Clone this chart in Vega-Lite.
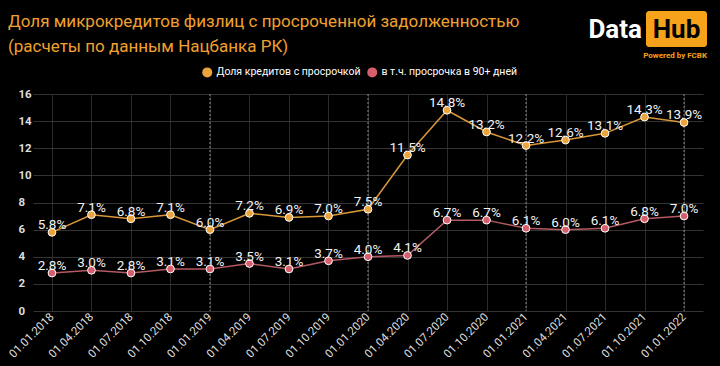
{
  "$schema": "https://vega.github.io/schema/vega-lite/v6.json",
  "width": 670,
  "height": 217,
  "autosize": "none",
  "padding": {"left": 33, "top": 94, "right": 17, "bottom": 55},
  "background": "#000000",
  "title": {
    "text": ["Доля микрокредитов физлиц с просроченной задолженностью", "(расчеты по данным Нацбанка РК)"],
    "anchor": "start",
    "frame": "group",
    "dx": -25,
    "color": "#F0A030",
    "font": "Roboto",
    "fontSize": 17,
    "fontWeight": "normal",
    "lineHeight": 25,
    "baseline": "top",
    "offset": 0,
    "dy": 45
  },
  "config": {
    "view": {"stroke": null},
    "font": "Roboto",
    "axis": {"domain": false, "ticks": false}
  },
  "datasets": {
    "main": [
      {"date": "01.01.2018", "series": "Доля кредитов с просрочкой", "value": 5.8},
      {"date": "01.04.2018", "series": "Доля кредитов с просрочкой", "value": 7.1},
      {"date": "01.07.2018", "series": "Доля кредитов с просрочкой", "value": 6.8},
      {"date": "01.10.2018", "series": "Доля кредитов с просрочкой", "value": 7.1},
      {"date": "01.01.2019", "series": "Доля кредитов с просрочкой", "value": 6.0},
      {"date": "01.04.2019", "series": "Доля кредитов с просрочкой", "value": 7.2},
      {"date": "01.07.2019", "series": "Доля кредитов с просрочкой", "value": 6.9},
      {"date": "01.10.2019", "series": "Доля кредитов с просрочкой", "value": 7.0},
      {"date": "01.01.2020", "series": "Доля кредитов с просрочкой", "value": 7.5},
      {"date": "01.04.2020", "series": "Доля кредитов с просрочкой", "value": 11.5},
      {"date": "01.07.2020", "series": "Доля кредитов с просрочкой", "value": 14.8},
      {"date": "01.10.2020", "series": "Доля кредитов с просрочкой", "value": 13.2},
      {"date": "01.01.2021", "series": "Доля кредитов с просрочкой", "value": 12.2},
      {"date": "01.04.2021", "series": "Доля кредитов с просрочкой", "value": 12.6},
      {"date": "01.07.2021", "series": "Доля кредитов с просрочкой", "value": 13.1},
      {"date": "01.10.2021", "series": "Доля кредитов с просрочкой", "value": 14.3},
      {"date": "01.01.2022", "series": "Доля кредитов с просрочкой", "value": 13.9},
      {"date": "01.01.2018", "series": "в т.ч. просрочка в 90+ дней", "value": 2.8},
      {"date": "01.04.2018", "series": "в т.ч. просрочка в 90+ дней", "value": 3.0},
      {"date": "01.07.2018", "series": "в т.ч. просрочка в 90+ дней", "value": 2.8},
      {"date": "01.10.2018", "series": "в т.ч. просрочка в 90+ дней", "value": 3.1},
      {"date": "01.01.2019", "series": "в т.ч. просрочка в 90+ дней", "value": 3.1},
      {"date": "01.04.2019", "series": "в т.ч. просрочка в 90+ дней", "value": 3.5},
      {"date": "01.07.2019", "series": "в т.ч. просрочка в 90+ дней", "value": 3.1},
      {"date": "01.10.2019", "series": "в т.ч. просрочка в 90+ дней", "value": 3.7},
      {"date": "01.01.2020", "series": "в т.ч. просрочка в 90+ дней", "value": 4.0},
      {"date": "01.04.2020", "series": "в т.ч. просрочка в 90+ дней", "value": 4.1},
      {"date": "01.07.2020", "series": "в т.ч. просрочка в 90+ дней", "value": 6.7},
      {"date": "01.10.2020", "series": "в т.ч. просрочка в 90+ дней", "value": 6.7},
      {"date": "01.01.2021", "series": "в т.ч. просрочка в 90+ дней", "value": 6.1},
      {"date": "01.04.2021", "series": "в т.ч. просрочка в 90+ дней", "value": 6.0},
      {"date": "01.07.2021", "series": "в т.ч. просрочка в 90+ дней", "value": 6.1},
      {"date": "01.10.2021", "series": "в т.ч. просрочка в 90+ дней", "value": 6.8},
      {"date": "01.01.2022", "series": "в т.ч. просрочка в 90+ дней", "value": 7.0}
    ],
    "yearmarks": [
      {"date": "01.01.2019"},
      {"date": "01.01.2020"},
      {"date": "01.01.2021"},
      {"date": "01.01.2022"}
    ],
    "logo": [
      {"part": "Data", "label": "Data"},
      {"part": "Hub", "label": "Hub"},
      {"part": "Powered", "label": "Powered by FCBK"}
    ]
  },
  "layer": [
    {
      "data": {"name": "yearmarks"},
      "mark": {"type": "rule", "color": "#8a8a8a", "strokeDash": [2, 2], "strokeWidth": 1},
      "encoding": {
        "x": {
          "field": "date",
          "type": "ordinal",
          "scale": {"type": "point", "padding": 0.48, "domain": ["01.01.2018", "01.04.2018", "01.07.2018", "01.10.2018", "01.01.2019", "01.04.2019", "01.07.2019", "01.10.2019", "01.01.2020", "01.04.2020", "01.07.2020", "01.10.2020", "01.01.2021", "01.04.2021", "01.07.2021", "01.10.2021", "01.01.2022"]},
          "axis": {
            "title": null,
            "labelAngle": -45,
            "labelAlign": "right",
            "labelBaseline": "middle",
            "labelPadding": 4,
            "labelColor": "#dddddd",
            "labelFontSize": 11.5,
            "grid": true,
            "gridColor": "#2a2a2a",
            "gridWidth": 1
          }
        }
      }
    },
    {
      "data": {"name": "main"},
      "encoding": {
        "x": {"field": "date", "type": "ordinal"},
        "y": {
          "field": "value",
          "type": "quantitative",
          "scale": {"domain": [0, 16], "nice": false},
          "axis": {
            "title": null,
            "values": [0, 2, 4, 6, 8, 10, 12, 14, 16],
            "labelAlign": "left",
            "labelPadding": 15,
            "labelColor": "#dddddd",
            "labelFontSize": 11.5,
            "labelFontWeight": "bold",
            "gridColor": "#333333",
            "gridWidth": 1
          }
        }
      },
      "layer": [
        {
          "transform": [{"filter": "datum.series == 'Доля кредитов с просрочкой'"}],
          "mark": {"type": "line", "strokeWidth": 1.5, "color": "#D9973A"}
        },
        {
          "transform": [{"filter": "datum.series == 'в т.ч. просрочка в 90+ дней'"}],
          "mark": {"type": "line", "strokeWidth": 1.5, "color": "#B45A62"}
        },
        {
          "mark": {"type": "circle", "size": 60, "stroke": "#ffffff", "strokeWidth": 1, "opacity": 1},
          "encoding": {
            "fill": {
              "field": "series",
              "type": "nominal",
              "scale": {"domain": ["Доля кредитов с просрочкой", "в т.ч. просрочка в 90+ дней"], "range": ["#EBA33C", "#D65F6D"]},
              "legend": {
                "title": null,
                "orient": "none",
                "legendX": 169,
                "legendY": -27,
                "direction": "horizontal",
                "symbolType": "circle",
                "symbolSize": 100,
                "symbolStrokeWidth": 0,
                "labelColor": "#ffffff",
                "labelFont": "Roboto",
                "labelFontSize": 10.5,
                "labelLimit": 300,
                "labelOffset": 4,
                "columnPadding": 6,
                "padding": 0
              }
            }
          }
        },
        {
          "transform": [{"calculate": "format(datum.value, '.1f') + '%'", "as": "lbl"}],
          "mark": {"type": "text", "color": "#f2f2f2", "fontSize": 13.5, "baseline": "alphabetic", "dy": -3},
          "encoding": {"text": {"field": "lbl"}}
        }
      ]
    },
    {
      "data": {"name": "logo"},
      "transform": [{"filter": "datum.part == 'Hub'"}],
      "mark": {"type": "rect", "color": "#F7A21B", "cornerRadius": 3, "x": 613, "x2": 674, "y": -83, "y2": -47},
      "encoding": {}
    },
    {
      "data": {"name": "logo"},
      "transform": [{"filter": "datum.part == 'Data'"}],
      "mark": {"type": "text", "color": "#ffffff", "fontSize": 26, "fontWeight": "bold", "align": "right", "baseline": "alphabetic", "x": 609, "y": -56.5},
      "encoding": {"text": {"field": "label"}}
    },
    {
      "data": {"name": "logo"},
      "transform": [{"filter": "datum.part == 'Hub'"}],
      "mark": {"type": "text", "color": "#000000", "fontSize": 26, "fontWeight": "bold", "align": "center", "baseline": "alphabetic", "x": 643.5, "y": -56.5},
      "encoding": {"text": {"field": "label"}}
    },
    {
      "data": {"name": "logo"},
      "transform": [{"filter": "datum.part == 'Powered'"}],
      "mark": {"type": "text", "color": "#F7A21B", "fontSize": 8, "fontWeight": "bold", "align": "right", "baseline": "middle", "x": 674, "y": -38},
      "encoding": {"text": {"field": "label"}}
    }
  ]
}
